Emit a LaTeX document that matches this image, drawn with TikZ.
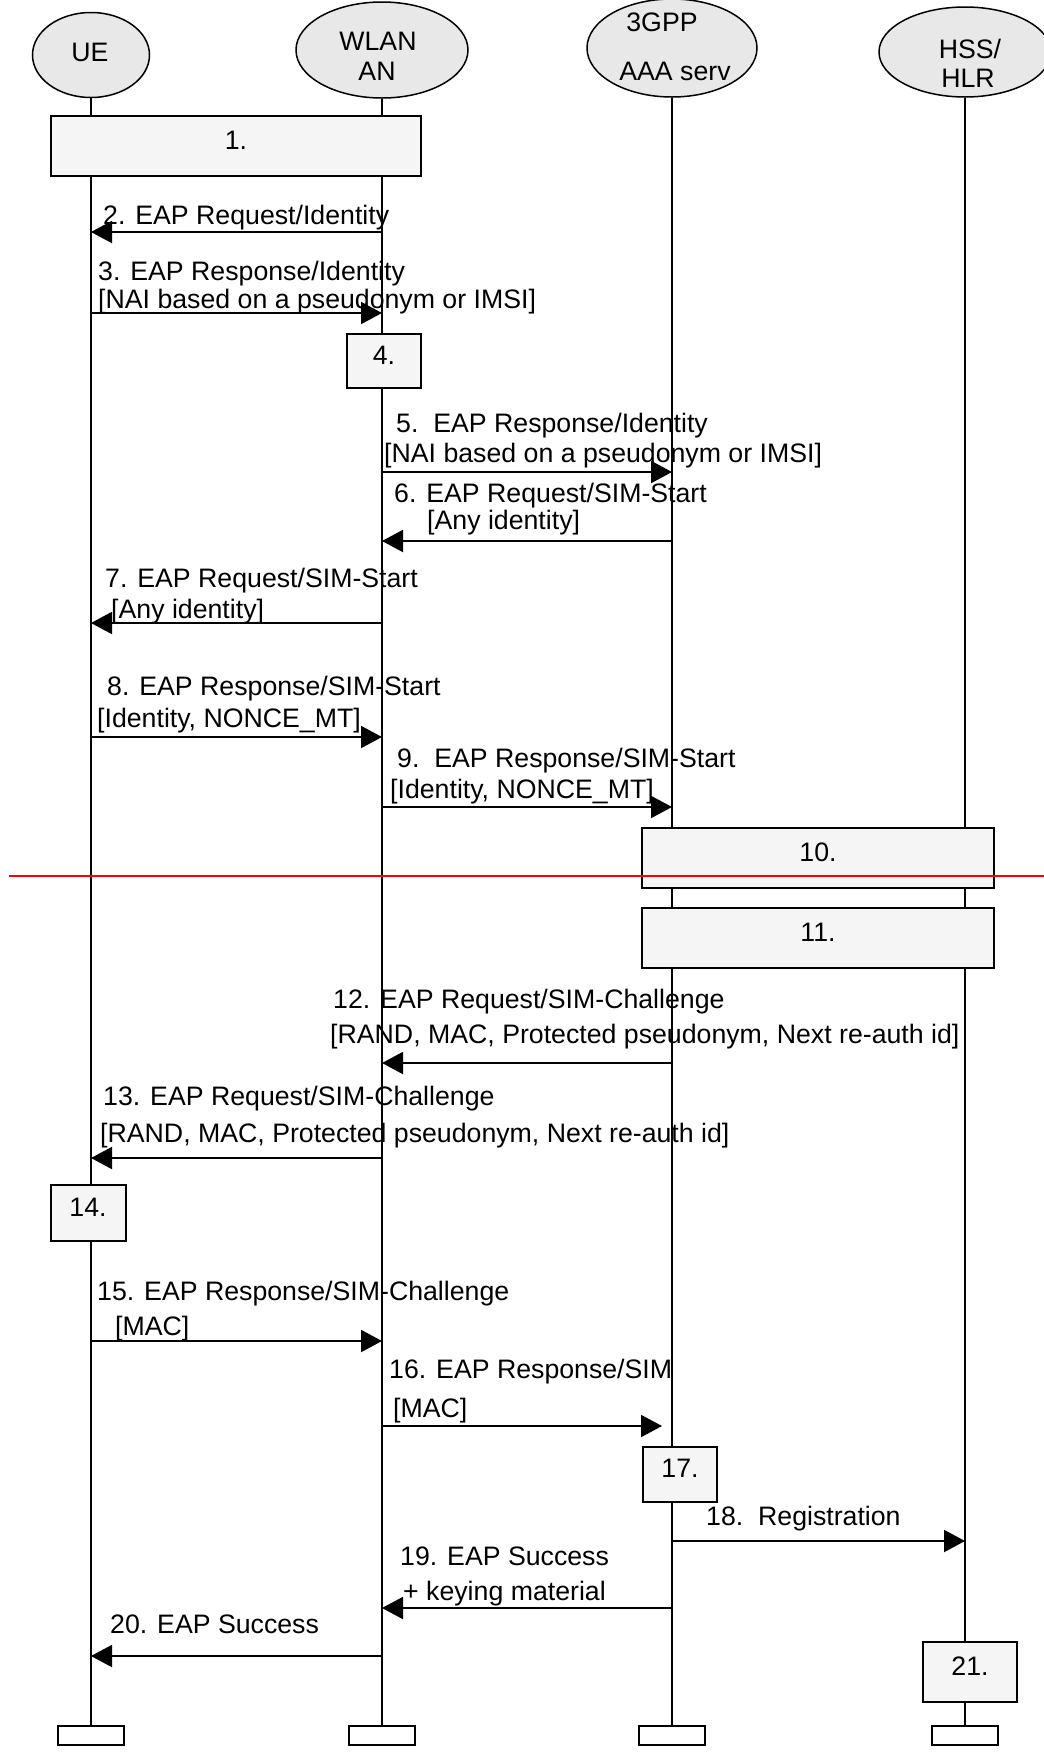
\documentclass[tikz,border=0pt]{standalone}
\usepackage{fontspec}
\setmainfont{Liberation Sans}
\usetikzlibrary{arrows.meta,shapes.geometric}

\begin{document}
\begin{tikzpicture}[x=1pt,y=-1pt,font=\fontsize{26.7}{32}\selectfont,
      >={Triangle[length=21pt,width=22pt]},
      actor/.style={ellipse,draw,fill=black!9,line width=1.5pt,inner sep=0pt},
      actortext/.style={anchor=base,inner sep=0pt},
      stepbox/.style={draw,fill=black!4,line width=2pt,inner sep=0pt,text depth=11pt},
      foot/.style={draw,line width=1.5pt,minimum width=66pt,minimum height=19pt,inner sep=0pt},
      lbl/.style={anchor=base west,inner sep=0pt},
      msg/.style={->,line width=2pt}]
      \useasboundingbox (0,0) rectangle (1044,1757);

      \node[actor,minimum width=117pt,minimum height=85pt] (ue) at (91,55) {};
      \node[actor,minimum width=172pt,minimum height=96pt] (wlan) at (382,50) {};
      \node[actor,minimum width=170pt,minimum height=98pt] (aaa) at (672,48) {};
      \node[actor,minimum width=172pt,minimum height=90pt] (hss) at (965,52) {};
      \node[actortext] (uet) at (90,61) {UE};
      \node[actortext] (wlant) at (378,50) {WLAN};
      \node[actortext] (wlanb) at (377,80) {AN};
      \node[actortext] (aaat) at (662,31) {3GPP};
      \node[actortext] (aaab) at (675,80) {AAA serv};
      \node[actortext] (hsst) at (970,58) {HSS/};
      \node[actortext] (hssb) at (968,87) {HLR};

      \node[foot] (uef) at (91,1735.5) {};
      \node[foot] (wlanf) at (382,1735.5) {};
      \node[foot] (aaaf) at (672,1735.5) {};
      \node[foot] (hssf) at (965,1735.5) {};

      \draw[line width=1.5pt] (ue) -- (uef) (wlan) -- (wlanf)
        (aaa) -- (aaaf) (hss) -- (hssf);

      \node[stepbox,minimum width=370pt,minimum height=60pt] (s1) at (236,146) {1.};
      \node[stepbox,minimum width=74pt,minimum height=54pt] (s4) at (384,361) {4.};
      \node[stepbox,minimum width=352pt,minimum height=60pt] (s10) at (818,858) {10.};
      \node[stepbox,minimum width=352pt,minimum height=60pt] (s11) at (818,938) {11.};
      \node[stepbox,minimum width=75pt,minimum height=56pt] (s14) at (88,1213) {14.};
      \node[stepbox,minimum width=74pt,minimum height=55pt] (s17) at (680,1474) {17.};
      \node[stepbox,minimum width=94pt,minimum height=60pt] (s21) at (970,1672) {21.};

      \coordinate (cutl) at (9,876);
      \coordinate (cutr) at (1044,876);
      \draw[red,line width=2pt] (cutl) -- (cutr);

      \foreach \n/\y in {2/232,3/313,5/472,6/541,7/623,8/737,9/807,12/1063,
        13/1158,15/1341,16/1426,18/1541,19/1608,20/1656} {
        \coordinate (ue\n) at (91,\y);
        \coordinate (wlan\n) at (382,\y);
        \coordinate (aaa\n) at (672,\y);
        \coordinate (hss\n) at (965,\y);
      }

      \path[msg]
      (wlan2) edge (ue2)
      (ue3) edge (wlan3)
      (wlan5) edge (aaa5)
      (aaa6) edge (wlan6)
      (wlan7) edge (ue7)
      (ue8) edge (wlan8)
      (wlan9) edge (aaa9)
      (aaa12) edge (wlan12)
      (wlan13) edge (ue13)
      (ue15) edge (wlan15)
      (wlan16) edge[shorten >=10pt] (aaa16)
      (aaa18) edge (hss18)
      (aaa19) edge (wlan19)
      (wlan20) edge (ue20);

      \node[lbl] (t2) at (103,224) {2. EAP Request/Identity};
      \node[lbl] (t3a) at (98,280) {3. EAP Response/Identity};
      \node[lbl] (t3b) at (98,308) {[NAI based on a pseudonym or IMSI]};
      \node[lbl] (t5a) at (396,432) {5.\ \ EAP Response/Identity};
      \node[lbl] (t5b) at (384,462) {[NAI based on a pseudonym or IMSI]};
      \node[lbl] (t6a) at (394,502) {6. EAP Request/SIM-Start};
      \node[lbl] (t6b) at (427,529) {[Any identity]};
      \node[lbl] (t7a) at (105,587) {7. EAP Request/SIM-Start};
      \node[lbl] (t7b) at (111,618) {[Any identity]};
      \node[lbl] (t8a) at (107,695) {8. EAP Response/SIM-Start};
      \node[lbl] (t8b) at (97,727) {[Identity, NONCE\_MT]};
      \node[lbl] (t9a) at (397,767) {9.\ \ EAP Response/SIM-Start};
      \node[lbl] (t9b) at (390,798) {[Identity, NONCE\_MT]};
      \node[lbl] (t12a) at (333,1008) {12. EAP Request/SIM-Challenge};
      \node[lbl] (t12b) at (330,1043) {[RAND, MAC, Protected pseudonym, Next re-auth id]};
      \node[lbl] (t13a) at (103,1105) {13. EAP Request/SIM-Challenge};
      \node[lbl] (t13b) at (100,1142) {[RAND, MAC, Protected pseudonym, Next re-auth id]};
      \node[lbl] (t15a) at (97,1300) {15. EAP Response/SIM-Challenge};
      \node[lbl] (t15b) at (115,1335) {[MAC]};
      \node[lbl] (t16a) at (389,1378) {16. EAP Response/SIM};
      \node[lbl] (t16b) at (393,1417) {[MAC]};
      \node[lbl] (t18) at (706,1525) {18.\ \ Registration};
      \node[lbl] (t19a) at (400,1565) {19. EAP Success};
      \node[lbl] (t19b) at (403,1600) {+ keying material};
      \node[lbl] (t20) at (110,1633) {20. EAP Success};
\end{tikzpicture}
\end{document}
